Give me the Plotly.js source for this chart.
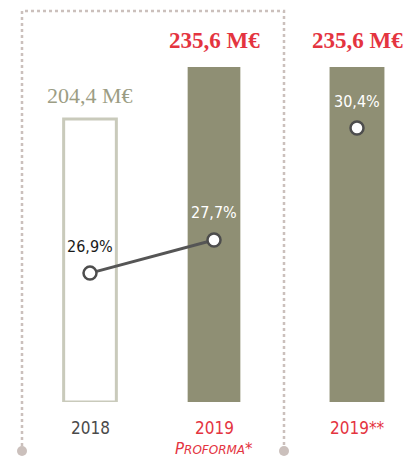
<!DOCTYPE html>
<html>
<head>
<meta charset="utf-8">
<script src="https://cdn.plot.ly/plotly-3.0.1.min.js"></script>
<style>html,body{margin:0;padding:0;background:#fff;}#chart{width:406px;height:459px;}</style>
</head>
<body>
<div id="chart"></div>
<script>
// ---- data ----
const categories = ['2018', '2019', '2019**'];
const sublabels = ['', 'Proforma*', ''];
const revenue = [204.4, 235.6, 235.6];   // M€
const marginPct = [26.9, 27.7, 30.4];    // %

// ---- styles ----
const RED = '#e4343f';
const OLIVE = '#8f8f74';
const OUTLINE = '#c9cabb';
const GREYTXT = '#9c9d84';
const DOT = '#cbc0bc';
const W = 406, H = 459;
const fmt = v => v.toFixed(1).replace('.', ',');
const BAR_BASE = 34.6;

const mainCats = categories.slice(0, 2);
const sideCats = categories.slice(2);

const traces = [
  {
    type: 'bar', x: mainCats, y: revenue.slice(0, 2).map(v => v - BAR_BASE), base: BAR_BASE,
    xaxis: 'x', yaxis: 'y', width: 0.425,
    marker: { color: ['#ffffff', OLIVE], line: { color: [OUTLINE, OLIVE], width: [3, 0] } },
    hoverinfo: 'skip'
  },
  {
    type: 'bar', x: sideCats, y: revenue.slice(2).map(v => v - BAR_BASE), base: BAR_BASE,
    xaxis: 'x2', yaxis: 'y3', width: 0.56,
    marker: { color: OLIVE }, hoverinfo: 'skip'
  },
  {
    type: 'scatter', mode: 'lines+markers', x: mainCats, y: marginPct.slice(0, 2),
    xaxis: 'x', yaxis: 'y2',
    line: { color: '#555555', width: 3 },
    marker: { size: 13, color: '#ffffff', line: { color: '#4d4d4d', width: 2.5 } },
    hoverinfo: 'skip'
  },
  {
    type: 'scatter', mode: 'markers', x: sideCats, y: marginPct.slice(2),
    xaxis: 'x2', yaxis: 'y4',
    marker: { size: 13, color: '#ffffff', line: { color: '#4d4d4d', width: 2.5 } },
    hoverinfo: 'skip'
  }
];

const hidden = { showgrid: false, zeroline: false, showticklabels: false, showline: false, ticks: '' };
const yBarDomain = [57 / H, 1];
const yBarRange = [BAR_BASE, 275.8];
const yPctRange = [23.79, 33.49];

const annotations = [];
const axisOf = i => (i < 2 ? { x: 'x', y: 'y', y2: 'y2', idx: i } : { x: 'x2', y: 'y3', y2: 'y4', idx: i - 2 });
// revenue labels
revenue.forEach((v, i) => {
  const a = axisOf(i);
  const isRed = i > 0;
  annotations.push({
    xref: a.x, yref: a.y, x: a.idx, y: v, yanchor: 'middle', yshift: isRed ? 27 : 24,
    text: fmt(v) + ' M€', showarrow: false,
    font: { family: 'Liberation Serif, serif', size: isRed ? 23 : 22, color: isRed ? RED : GREYTXT, weight: isRed ? 'bold' : 'normal' }
  });
});
// percentage labels
marginPct.forEach((v, i) => {
  const a = axisOf(i);
  annotations.push({
    xref: a.x, yref: a.y2, x: a.idx, y: v, yanchor: 'middle', yshift: 27,
    text: fmt(v) + '%', showarrow: false,
    font: { family: 'DejaVu Sans Condensed, DejaVu Sans, sans-serif', size: 16, color: i === 0 ? '#1a1a1a' : '#ffffff' }
  });
});
// category labels
categories.forEach((c, i) => {
  const a = axisOf(i);
  annotations.push({
    xref: a.x, yref: 'paper', x: a.idx, y: 1 - 428 / H, yanchor: 'middle',
    text: c, showarrow: false,
    font: { family: 'DejaVu Sans Condensed, DejaVu Sans, sans-serif', size: 17, color: i === 0 ? '#4a4a4a' : RED }
  });
  if (sublabels[i]) {
    const s = sublabels[i];
    annotations.push({
      xref: a.x, yref: 'paper', x: a.idx, y: 0, yanchor: 'bottom', borderpad: 0,
      text: '<i>' + s.charAt(0).toUpperCase() + '<span style="font-size:12px">' + s.slice(1, -1).toUpperCase() + '</span>' + s.slice(-1) + '</i>',
      showarrow: false,
      font: { family: 'DejaVu Sans, sans-serif', size: 15, color: RED }
    });
  }
});

const px = x => x / W, py = y => 1 - y / H;
const shapes = [
  { type: 'path', xref: 'paper', yref: 'paper',
    path: `M ${px(22)} ${py(446)} L ${px(22)} ${py(11)} L ${px(284)} ${py(11)} L ${px(284)} ${py(446)}`,
    line: { color: DOT, width: 2.5, dash: 'dot' }, layer: 'below' },
  { type: 'circle', xref: 'paper', yref: 'paper', x0: px(17), x1: px(27), y0: py(456), y1: py(446), fillcolor: DOT, line: { width: 0 } },
  { type: 'circle', xref: 'paper', yref: 'paper', x0: px(279), x1: px(289), y0: py(456), y1: py(446), fillcolor: DOT, line: { width: 0 } }
];

const layout = {
  width: W, height: H,
  margin: { l: 0, r: 0, t: 0, b: 0 },
  paper_bgcolor: '#ffffff', plot_bgcolor: 'rgba(0,0,0,0)',
  showlegend: false,
  xaxis: Object.assign({ type: 'category', domain: [28 / W, 276 / W], range: [-0.5, 1.5], anchor: 'y' }, hidden),
  xaxis2: Object.assign({ type: 'category', domain: [308 / W, 1], range: [-0.5, 0.5], anchor: 'y3' }, hidden),
  yaxis: Object.assign({ domain: yBarDomain, range: yBarRange, anchor: 'x' }, hidden),
  yaxis2: Object.assign({ range: yPctRange, overlaying: 'y', anchor: 'x' }, hidden),
  yaxis3: Object.assign({ domain: yBarDomain, range: yBarRange, anchor: 'x2' }, hidden),
  yaxis4: Object.assign({ range: yPctRange, overlaying: 'y3', anchor: 'x2' }, hidden),
  annotations: annotations,
  shapes: shapes
};

Plotly.newPlot('chart', traces, layout, { displayModeBar: false, staticPlot: true });
</script>
</body>
</html>
